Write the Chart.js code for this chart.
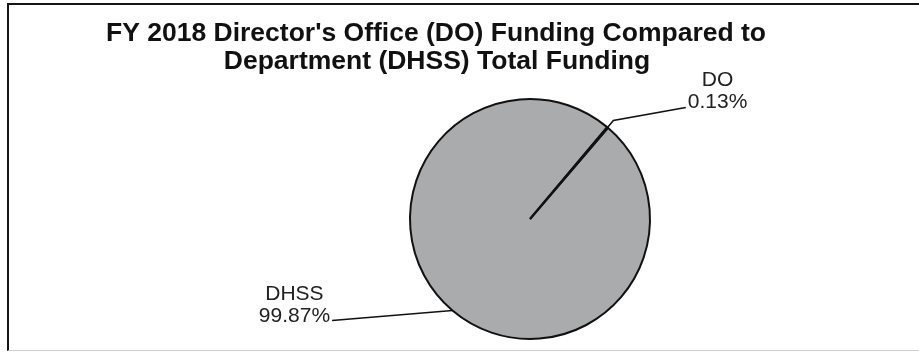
<!DOCTYPE html>
<html>
<head>
<meta charset="utf-8">
<script src="https://cdn.jsdelivr.net/npm/chart.js@4.4.0/dist/chart.umd.min.js"></script>
<style>
  body { margin: 0; background: #fff; }
  #quadro { position: relative; width: 919px; height: 355px; overflow: hidden; }
  #moldura {
    position: absolute; left: 7px; top: 3px; width: 930px; height: 345px;
    border-left: 2px solid #151515; border-top: 2px solid #151515; border-bottom: 1px solid #cfcfcf;
  }
  #graficoPizza { position: absolute; left: 0; top: 0; }
</style>
</head>
<body>
<div id="quadro">
  <div id="moldura"></div>
  <canvas id="graficoPizza" width="919" height="355"></canvas>
</div>
<script>
var titulo = ["FY 2018 Director's Office (DO) Funding Compared to", "Department (DHSS) Total Funding"];
var categorias = ["DHSS", "DO"];
var percentuais = [99.87, 0.13];

// deslocamento de cada rótulo a partir da borda da fatia (linha do valor)
var posicaoRotulo = [
  { dx: -158, dy: 11, dobra: 0 },
  { dx: 110, dy: -19, dobra: 9 },
];

const fonte = '"Liberation Sans", Arial, sans-serif';

const rotulos = {
  id: "rotulos",
  afterDraw(chart) {
    const ctx = chart.ctx;
    ctx.save();

    // título em duas linhas
    ctx.fillStyle = "#111";
    ctx.textAlign = "center";
    ctx.font = "bold 26.5px " + fonte;
    ctx.fillText(titulo[0], 436, 41);
    ctx.fillText(titulo[1], 437, 69);

    // rótulos com linha de chamada
    ctx.font = "21px " + fonte;
    ctx.strokeStyle = "#111";
    ctx.lineWidth = 1.6;
    const meta = chart.getDatasetMeta(0);
    meta.data.forEach((arco, i) => {
      const p = arco.getProps(["x", "y", "startAngle", "endAngle", "outerRadius"], true);
      const meio = (p.startAngle + p.endAngle) / 2;
      const bx = p.x + Math.cos(meio) * p.outerRadius;
      const by = p.y + Math.sin(meio) * p.outerRadius;
      const pos = posicaoRotulo[i];

      const cx = bx + pos.dx;
      const linhaValor = by + pos.dy;
      const valor = percentuais[i].toFixed(2) + "%";
      ctx.fillStyle = "#222";
      ctx.fillText(categorias[i], cx, linhaValor - 22);
      ctx.fillText(valor, cx, linhaValor);

      const larg = ctx.measureText(valor).width;
      const fimX = pos.dx < 0 ? cx + larg / 2 + 2 : cx - larg / 2 - 2;
      const fimY = linhaValor - 1;

      ctx.beginPath();
      ctx.moveTo(bx, by);
      if (pos.dobra) {
        ctx.lineTo(bx + Math.cos(meio) * pos.dobra, by + Math.sin(meio) * pos.dobra);
      }
      ctx.lineTo(fimX, fimY);
      ctx.stroke();
    });

    ctx.restore();
  },
};

const graficoPizza = new Chart(document.getElementById("graficoPizza"), {
  type: "pie",
  data: {
    labels: categorias,
    datasets: [
      {
        data: percentuais,
        backgroundColor: "#a9abad",
        borderColor: "#111",
        borderWidth: 2,
      },
    ],
  },
  options: {
    responsive: false,
    animation: false,
    rotation: 40.5,
    layout: {
      padding: { left: 409, right: 268, top: 98, bottom: 15 },
    },
    plugins: {
      legend: { display: false },
      tooltip: { enabled: false },
    },
  },
  plugins: [rotulos],
});
</script>
</body>
</html>
